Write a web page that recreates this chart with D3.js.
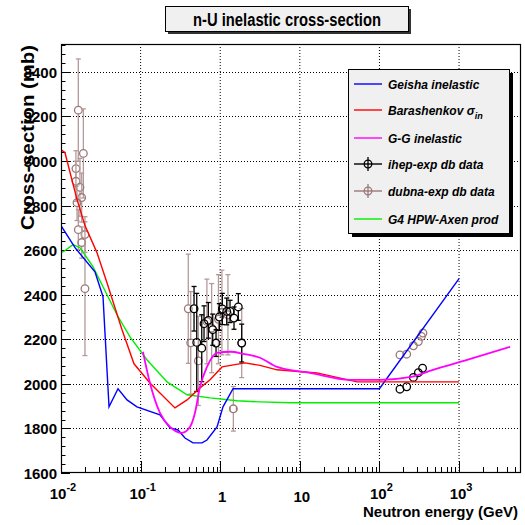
<!DOCTYPE html>
<html>
<head>
<meta charset="utf-8">
<script src="https://cdn.jsdelivr.net/npm/d3@7"></script>
<style>
  body { margin: 0; background: #fff; }
  text { font-family: "Liberation Sans", Arial, Helvetica, sans-serif; font-weight: bold; }
</style>
</head>
<body>
<div id="chart"></div>
<script>
// curves: [energy GeV, cross-section mb]
var geisha = [[0.01,2710],[0.015,2611],[0.0267,2503],[0.0337,2391],[0.0401,1897],[0.052,1978],
  [0.0675,1928],[0.09,1897],[0.175,1861],[0.234,1802],[0.295,1793],[0.361,1757],[0.455,1735],
  [0.591,1735],[0.682,1748],[0.912,1807],[1.084,1897],[1.449,1978],[100,1978],[1000,2472]];
var barashenkov = [[0.01,3050],[0.0112,3038],[0.0159,2827],[0.02,2710],[0.0283,2589],[0.0378,2454],
  [0.0584,2243],[0.0826,2090],[0.131,2004],[0.27,1892],[0.383,1928],[0.557,1982],[0.745,2018],
  [1.054,2076],[2.05,2094],[3.16,2083],[5.17,2063],[16.4,2049],[52.3,2009],[1000,2009]];
var ggInel = [[0.107,2144],[0.131,2004],[0.175,1870],[0.234,1807],[0.331,1780],[0.418,1807],
  [0.482,1870],[0.557,1987],[0.682,2076],[0.912,2139],[1.35,2144],[1.93,2135],[3.16,2117],
  [5.17,2076],[13.4,2049],[42.7,2018],[102,2018],[250,2031],[471,2063],[1262,2108],[4375,2166]];
var hpwAxen = [[0.01,2590],[0.0107,2593],[0.01415,2625],[0.0173,2611],[0.0252,2526],[0.0337,2436],
  [0.0505,2310],[0.0736,2211],[0.12,2108],[0.215,2009],[0.383,1951],[0.745,1937],[1.63,1924],
  [3.16,1919],[7.54,1915],[1000,1915]];

// data points: [energy, sigma, error]
var dubnaData = [[0.0165,3228,230],[0.0191,3034,200],[0.0154,2966,80],[0.0154,2909,90],
  [0.0173,2882,130],[0.0182,2836,110],[0.0159,2813,80],[0.0165,2692,90],[0.02,2670,80],
  [0.0182,2634,70],[0.02,2427,300],
  [0.397,2337,245],[0.426,2184,230],[0.531,2103,200],[0.68,2280,190],[0.78,2250,200],
  [0.95,2290,200],[1.05,2320,190],[1.25,2310,180],[1.862,2183,155],[1.462,1888,100],
  [181,2130,0],[220,2133,0],[267,2171,0],[308,2190,0],[337,2213,0],[352,2228,0]];
var ihepData = [[0.469,2337,100],[0.507,2186,220],[0.586,2160,150],[0.626,2270,80],
  [0.709,2285,80],[0.805,2243,70],[0.886,2183,60],[0.975,2300,60],[1.063,2336,70],
  [1.207,2325,60],[1.328,2325,50],[1.49,2295,50],[1.688,2345,60],[1.862,2183,85],
  [181,1976,0],[220,1987,0],[267,2029,0],[308,2050,0],[348,2070,0]];

var xTicks = [0.01, 0.1, 1, 10, 100, 1000];
var xTickBase = ["10", "10", "1", "10", "10", "10"];
var xTickExp = ["-2", "-1", "", "", "2", "3"];
var yTicks = [1600, 1800, 2000, 2200, 2400, 2600, 2800, 3000, 3200, 3400];

var legendItems = [
  {name: "Geisha inelastic", color: "#0000ff", type: "line"},
  {name: "Barashenkov \u03c3", sub: "in", color: "#ff0000", type: "line"},
  {name: "G-G inelastic", color: "#ff00ff", type: "line"},
  {name: "ihep-exp db data", color: "#000000", type: "marker"},
  {name: "dubna-exp db data", color: "#9c7878", type: "marker"},
  {name: "G4 HPW-Axen prod", color: "#00ee00", type: "line"}
];

var margin = {top: 44, right: 4, bottom: 52, left: 61}
  , width = 525 - margin.left - margin.right
  , height = 525 - margin.top - margin.bottom;

var svg = d3.select("#chart").append("svg")
    .attr("width", 525)
    .attr("height", 525);

var g = svg.append("g")
    .attr("transform", "translate(" + margin.left + "," + margin.top + ")");

var x = d3.scaleLog().domain([0.01, 6000]).range([0, width]);
var y = d3.scaleLinear().domain([1600, 3525]).range([height, 0]);

// title box
var title = svg.append("g");
title.append("rect").attr("x", 168).attr("y", 9).attr("width", 243).attr("height", 25).attr("fill", "#333");
title.append("rect").attr("x", 165.5).attr("y", 6.5).attr("width", 243).attr("height", 25)
    .attr("fill", "#f0f0f0").attr("stroke", "#000").attr("stroke-width", 1);
title.append("text").attr("x", 287).attr("y", 26).attr("text-anchor", "middle")
    .attr("font-size", 18).attr("textLength", 188).attr("lengthAdjust", "spacingAndGlyphs")
    .text("n-U inelastic cross-section");

// grid
g.selectAll(".gx").data(xTicks.slice(1)).enter().append("line")
    .attr("x1", function(d) { return x(d); }).attr("x2", function(d) { return x(d); })
    .attr("y1", 0).attr("y2", height)
    .attr("stroke", "#000").attr("stroke-width", 1).attr("stroke-dasharray", "1,2");
g.selectAll(".gy").data(yTicks.slice(1)).enter().append("line")
    .attr("x1", 0).attr("x2", width)
    .attr("y1", function(d) { return Math.round(y(d)) + 0.5; })
    .attr("y2", function(d) { return Math.round(y(d)) + 0.5; })
    .attr("stroke", "#000").attr("stroke-width", 1).attr("stroke-dasharray", "1,2");

// ticks
var xMinor = [];
for (var e = -2; e <= 3; e++) {
  for (var m = 2; m <= 9; m++) {
    var v = m * Math.pow(10, e);
    if (v < 6000) xMinor.push(v);
  }
}
g.selectAll(".xminor").data(xMinor).enter().append("line")
    .attr("x1", function(d) { return Math.round(x(d)) + 0.5; })
    .attr("x2", function(d) { return Math.round(x(d)) + 0.5; })
    .attr("y1", height).attr("y2", height - 6)
    .attr("stroke", "#000");
g.selectAll(".xmajor").data(xTicks).enter().append("line")
    .attr("x1", function(d) { return Math.round(x(d)) + 0.5; })
    .attr("x2", function(d) { return Math.round(x(d)) + 0.5; })
    .attr("y1", height).attr("y2", height - 12)
    .attr("stroke", "#000");

var yMinor = d3.range(1600, 3525, 40);
g.selectAll(".yminor").data(yMinor).enter().append("line")
    .attr("x1", 0).attr("x2", function(d) { return d % 200 === 0 ? 9 : 4.5; })
    .attr("y1", function(d) { return Math.round(y(d)) + 0.5; })
    .attr("y2", function(d) { return Math.round(y(d)) + 0.5; })
    .attr("stroke", "#000");

// tick labels
var xl = g.selectAll(".xlab").data(xTicks).enter().append("text")
    .attr("x", function(d) { return x(d) + 2; })
    .attr("y", function(d, i) { return height + (xTickExp[i] ? 26 : 29); })
    .attr("text-anchor", "middle")
    .attr("font-size", 15);
xl.append("tspan").text(function(d, i) { return xTickBase[i]; });
xl.append("tspan").attr("font-size", 11).attr("dy", -8)
    .text(function(d, i) { return xTickExp[i]; });

g.selectAll(".ylab").data(yTicks).enter().append("text")
    .attr("x", -4).attr("y", function(d) { return y(d) + 6; })
    .attr("text-anchor", "end").attr("font-size", 15)
    .text(function(d) { return d; });

// axis titles
svg.append("text")
    .attr("transform", "translate(34,45) rotate(-90)")
    .attr("text-anchor", "end").attr("font-size", 19)
    .attr("textLength", 185).attr("lengthAdjust", "spacingAndGlyphs")
    .text("Cross-section (mb)");
svg.append("text")
    .attr("x", 518).attr("y", 517)
    .attr("text-anchor", "end").attr("font-size", 15)
    .text("Neutron energy (GeV)");

// curves
g.append("clipPath").attr("id", "clip").append("rect").attr("width", width).attr("height", height);
var plot = g.append("g").attr("clip-path", "url(#clip)");

var line = d3.line()
    .x(function(d) { return x(d[0]); })
    .y(function(d) { return y(d[1]); });

function drawPoints(data, color, barColor) {
  var pts = plot.append("g");
  data.forEach(function(d) {
    var cx = x(d[0]), cy = y(d[1]);
    if (d[2] > 0) {
      var t = y(d[1] + d[2]), b = y(d[1] - d[2]);
      pts.append("line").attr("x1", cx).attr("x2", cx).attr("y1", t).attr("y2", cy - 4)
          .attr("stroke", barColor).attr("stroke-width", 1.3);
      pts.append("line").attr("x1", cx).attr("x2", cx).attr("y1", cy + 4).attr("y2", b)
          .attr("stroke", barColor).attr("stroke-width", 1.3);
      pts.append("line").attr("x1", cx - 2.5).attr("x2", cx + 2.5).attr("y1", t).attr("y2", t)
          .attr("stroke", barColor).attr("stroke-width", 1.3);
      pts.append("line").attr("x1", cx - 2.5).attr("x2", cx + 2.5).attr("y1", b).attr("y2", b)
          .attr("stroke", barColor).attr("stroke-width", 1.3);
    }
    pts.append("circle").attr("cx", cx).attr("cy", cy).attr("r", 3.8)
        .attr("fill", "none").attr("stroke", color).attr("stroke-width", 1.3);
  });
  return pts;
}

// the lone dubna point carries an x error
plot.append("path")
    .attr("d", "M" + x(1.33) + "," + (y(1888) - 2.5) + "v5M" + x(1.33) + "," + y(1888) + "H" + (x(1.462) - 4)
      + "M" + (x(1.462) + 4) + "," + y(1888) + "H" + x(1.6) + "M" + x(1.6) + "," + (y(1888) - 2.5) + "v5")
    .attr("stroke", "#9c7878").attr("stroke-width", 1.3).attr("fill", "none");

drawPoints(dubnaData, "#9c7878", "#b49a9a");
drawPoints(ihepData, "#000", "#000");

plot.append("path").datum(hpwAxen).attr("d", line)
    .attr("fill", "none").attr("stroke", "#00ee00").attr("stroke-width", 1.4);
plot.append("path").datum(geisha).attr("d", line)
    .attr("fill", "none").attr("stroke", "#0000ff").attr("stroke-width", 1.4);
plot.append("path").datum(barashenkov).attr("d", line)
    .attr("fill", "none").attr("stroke", "#ff0000").attr("stroke-width", 1.4);
plot.append("path").datum(ggInel).attr("d", d3.line().curve(d3.curveMonotoneX)
      .x(function(d) { return x(d[0]); }).y(function(d) { return y(d[1]); }))
    .attr("fill", "none").attr("stroke", "#ff00ff").attr("stroke-width", 1.8);

// frame
g.append("rect").attr("x", 0.5).attr("y", 0.5).attr("width", width - 1).attr("height", height - 1)
    .attr("fill", "none").attr("stroke", "#000").attr("stroke-width", 1.2);

// legend
var lg = svg.append("g");
lg.append("rect").attr("x", 352).attr("y", 73).attr("width", 161).attr("height", 164).attr("fill", "#000");
lg.append("rect").attr("x", 348.5).attr("y", 69.5).attr("width", 161).attr("height", 164)
    .attr("fill", "#f0f0f0").attr("stroke", "#000").attr("stroke-width", 1);
var rowY = [84, 110, 138, 164, 191, 219];
legendItems.forEach(function(d, i) {
  var ry = rowY[i];
  lg.append("line").attr("x1", 354).attr("x2", 382).attr("y1", ry).attr("y2", ry)
      .attr("stroke", d.color).attr("stroke-width", 1.4);
  if (d.type === "marker") {
    lg.append("line").attr("x1", 368).attr("x2", 368).attr("y1", ry - 7).attr("y2", ry + 7)
        .attr("stroke", d.color).attr("stroke-width", 1.3);
    lg.append("circle").attr("cx", 368).attr("cy", ry).attr("r", 3.8)
        .attr("fill", "none").attr("stroke", d.color).attr("stroke-width", 1.3);
  }
  var t = lg.append("text").attr("x", 388).attr("y", ry + 4.5)
      .attr("font-size", 12).attr("font-style", "italic").text(d.name);
  if (d.sub) {
    t.append("tspan").attr("font-size", 9).attr("dy", 4).text(d.sub);
  }
});
</script>
</body>
</html>
